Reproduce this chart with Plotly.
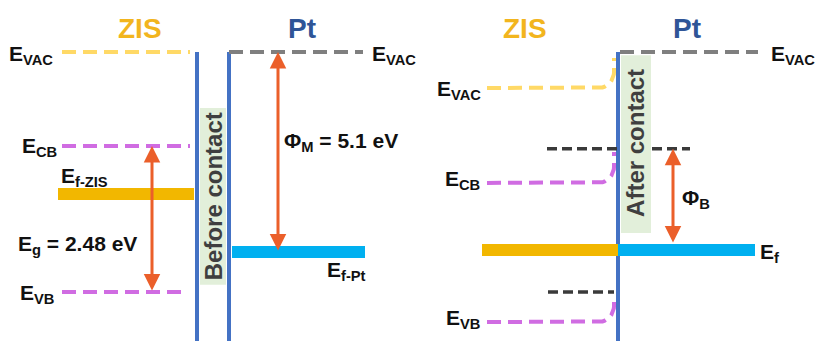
import numpy as np
import plotly.graph_objects as go

# ---------------- data (schematic energies in eV, vacuum level = 0) ----------------
panel_titles = ["ZIS", "Pt"]
contact_labels = ["Before contact", "After contact"]

# Before contact
zis_level_names = ["E<sub>VAC</sub>", "E<sub>CB</sub>", "E<sub>f-ZIS</sub>", "E<sub>VB</sub>"]
zis_before_E = [0.0, -2.40, -3.62, -6.12]          # VAC, CB, Ef, VB
pt_level_names = ["E<sub>VAC</sub>", "E<sub>f-Pt</sub>"]
pt_before_E = [0.0, -5.10]                          # VAC, Ef
gap_label = "E<sub>g</sub> = 2.48 eV"
work_fn_label = "Φ<sub>M</sub> = 5.1 eV"

# After contact
zis_after_names = ["E<sub>VAC</sub>", "E<sub>CB</sub>", "E<sub>f</sub>", "E<sub>VB</sub>"]
zis_after_bulk_E = [-0.92, -3.34, -5.05, -6.89]     # VAC, CB, Ef, VB (bulk)
zis_after_surface_E = [-0.15, -2.55, -5.05, -6.20]  # band edges at interface
edge_ref_E = [-2.47, -6.12]                         # original CB / VB positions
pt_after_E = [0.0, -5.05]                           # VAC, Ef
barrier_label = "Φ<sub>B</sub>"

# ---------------- styles ----------------
C_ZIS_T = "#F2B51E"
C_PT_T = "#2F5597"
C_YEL = "#FFD966"
C_MAG = "#D06CE2"
C_GRAY = "#7F7F7F"
C_DARK = "#3A3A3A"
C_BLUE = "#4472C4"
C_ORANGE = "#EB5F2A"
C_GOLD = "#F2B700"
C_CYAN = "#00B0F0"
C_GREEN = "#E2EFDA"
FONT = "Liberation Sans"
PX_PER_EV = 39.2
DASH = "14px,7px"

fig = go.Figure()


def hline(x0, x1, y, color, width, dash=None):
    fig.add_trace(go.Scatter(x=[x0, x1], y=[y, y], mode="lines",
                             line=dict(color=color, width=width, dash=dash),
                             hoverinfo="skip", showlegend=False))


def vline(x, y0, y1, color, width):
    fig.add_trace(go.Scatter(x=[x, x], y=[y0, y1], mode="lines",
                             line=dict(color=color, width=width),
                             hoverinfo="skip", showlegend=False))


def bent(x0, xw, y_bulk, y_surf, color, r_px=16):
    # horizontal bulk level, rounded corner, then vertical up to interface value
    ry = r_px / PX_PER_EV
    t = np.linspace(0, np.pi / 2, 12)
    cx, cy = xw - r_px, y_bulk + ry
    ax = cx + r_px * np.sin(t)
    ay = cy - ry * np.cos(t)
    xs = [x0] + list(ax) + [xw]
    ys = [y_bulk] + list(ay) + [y_surf]
    fig.add_trace(go.Scatter(x=xs, y=ys, mode="lines",
                             line=dict(color=color, width=4, dash=DASH),
                             hoverinfo="skip", showlegend=False))


def label(x, y, text, xanchor, size=21, color="#111111", yshift=0, angle=0):
    fig.add_annotation(x=x, y=y, text=text, showarrow=False, xanchor=xanchor,
                       yanchor="middle", yshift=yshift, textangle=angle,
                       font=dict(family=FONT, size=size, color=color, weight="bold"))


def arrow(x, y0, y1):
    fig.add_annotation(x=x, y=y1, ax=x, ay=y0, xref="x", yref="y", axref="x", ayref="y",
                       text="", showarrow=True, arrowhead=2, arrowside="end+start",
                       arrowsize=1.1, arrowwidth=3, arrowcolor=C_ORANGE,
                       standoff=0, startstandoff=0)


Y_BOTTOM = -7.6

# ---------------- Before contact ----------------
vac, cb, ef, vb = zis_before_E
hline(62, 190, vac, C_YEL, 4, DASH)
hline(62, 190, cb, C_MAG, 4, DASH)
hline(62, 188, vb, C_MAG, 4, DASH)
hline(58, 194, ef, C_GOLD, 12)
vline(197, vac, Y_BOTTOM, C_BLUE, 4)
vline(229, pt_before_E[0], Y_BOTTOM, C_BLUE, 4)
hline(229, 363, pt_before_E[0], C_GRAY, 4, DASH)
hline(232, 365, pt_before_E[1], C_CYAN, 12)

arrow(152, vb, cb)
arrow(278, pt_before_E[1], pt_before_E[0])

label(140, 0.60, panel_titles[0], "center", size=28, color=C_ZIS_T)
label(302, 0.60, panel_titles[1], "center", size=28, color=C_PT_T)
label(55, vac, zis_level_names[0], "right", yshift=-3)
label(59, cb, zis_level_names[1], "right", yshift=-1)
label(59, ef, zis_level_names[2], "left", yshift=17)
label(16, -4.92, gap_label, "left")
label(56, vb, zis_level_names[3], "right", yshift=-2)
label(370, pt_before_E[0], pt_level_names[0], "left", yshift=-3)
label(282, -2.30, work_fn_label, "left")
label(325, pt_before_E[1], pt_level_names[1], "left", yshift=-19)

# ---------------- After contact ----------------
avac, acb, aef, avb = zis_after_bulk_E
svac, scb, sef, svb = zis_after_surface_E
vline(618, pt_after_E[0], Y_BOTTOM, C_BLUE, 4)
hline(620, 758, pt_after_E[0], C_GRAY, 4, DASH)
bent(487, 614, avac, svac, C_YEL)
bent(487, 614, acb, scb, C_MAG)
bent(487, 614, avb, svb, C_MAG)
hline(547, 690, edge_ref_E[0], C_DARK, 3.5, "10px,5px")
hline(548, 614, edge_ref_E[1], C_DARK, 3.5, "10px,5px")
hline(482, 618, aef, C_GOLD, 12)
hline(618, 755, pt_after_E[1], C_CYAN, 12)

arrow(673, pt_after_E[1] + 0.15, edge_ref_E[0])

label(525, 0.60, panel_titles[0], "center", size=28, color=C_ZIS_T)
label(687, 0.60, panel_titles[1], "center", size=28, color=C_PT_T)
label(769, pt_after_E[0], pt_level_names[0], "left", yshift=-3)
label(483, avac, zis_after_names[0], "right", yshift=-2)
label(482, acb, zis_after_names[1], "right", yshift=3)
label(482, avb, zis_after_names[3], "right", yshift=3)
label(758, aef, zis_after_names[2], "left", yshift=-3)
label(680, -3.75, barrier_label, "left")

# green contact boxes (above traces)
fig.add_shape(type="rect", x0=200, x1=226, y0=-1.43, y1=-5.94, fillcolor=C_GREEN,
              line=dict(width=0), layer="above")
fig.add_shape(type="rect", x0=621, x1=651, y0=-0.08, y1=-4.62, fillcolor=C_GREEN,
              line=dict(width=0), layer="above")
label(213, -3.68, contact_labels[0], "center", size=24, color="#3F3F3F", angle=-90)
label(636, -2.32, contact_labels[1], "center", size=24, color="#3F3F3F", angle=-90)

fig.update_layout(
    width=815, height=341, margin=dict(l=0, r=0, t=0, b=0),
    paper_bgcolor="white", plot_bgcolor="white", showlegend=False,
    xaxis=dict(range=[0, 815], visible=False, fixedrange=True),
    yaxis=dict(range=[-(341 - 52) / PX_PER_EV, 52 / PX_PER_EV], visible=False, fixedrange=True),
)
fig.write_html("out.html", config={"displayModeBar": False},
               post_script="document.body.style.margin='0';document.body.style.overflow='hidden';")
